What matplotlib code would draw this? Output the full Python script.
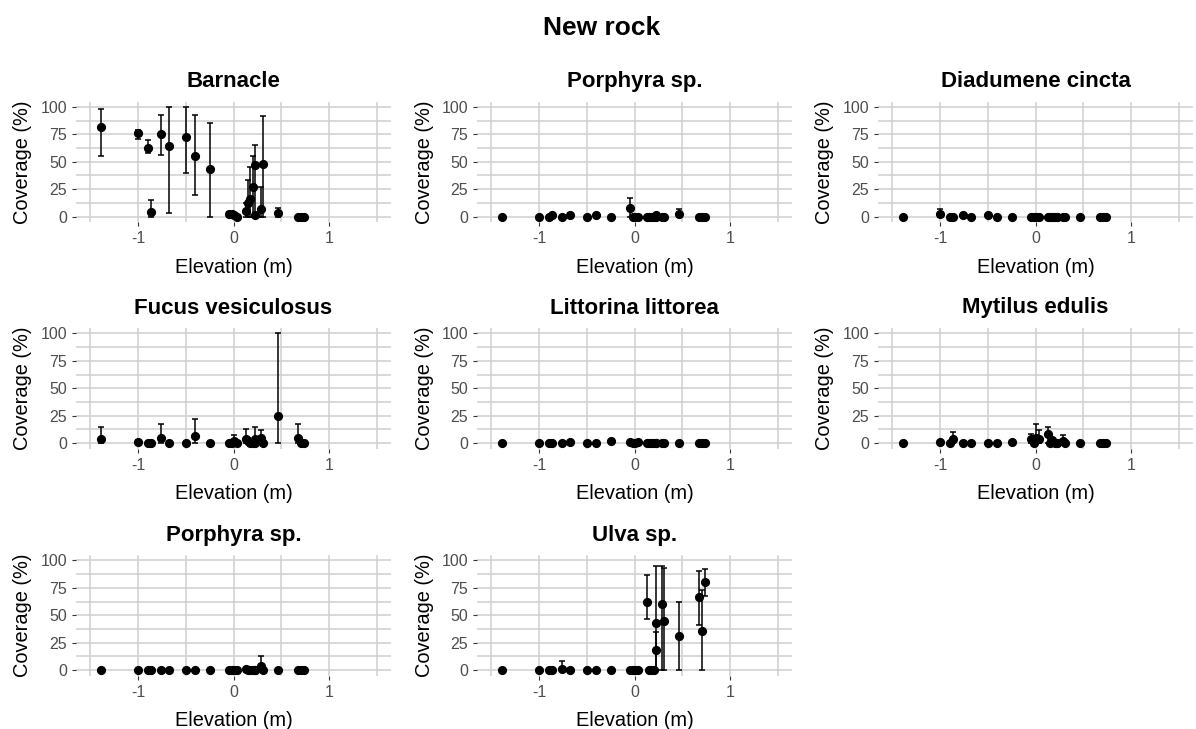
import matplotlib
matplotlib.use("Agg")
import matplotlib.pyplot as plt
from matplotlib.ticker import FixedLocator
import numpy as np

plt.rcParams['font.family'] = ['Liberation Sans', 'DejaVu Sans']
plt.rcParams['axes.unicode_minus'] = False

# Quadrat elevations (m), shared by every species panel
elevation = [-1.39, -1.00, -0.90, -0.86, -0.76, -0.68, -0.50, -0.40, -0.25,
             -0.05, -0.02, 0.00, 0.04, 0.13, 0.15, 0.17, 0.20, 0.22, 0.23,
             0.29, 0.31, 0.47, 0.68, 0.71, 0.74]

species = ["Barnacle", "Porphyra sp.", "Diadumene cincta",
           "Fucus vesiculosus", "Littorina littorea", "Mytilus edulis",
           "Porphyra sp.", "Ulva sp."]

# Mean coverage (%) and error bar limits per species
barnacle_mean = [82, 76, 63, 4, 75, 64, 73, 55, 43, 2, 2, 1, 0, 5, 12, 16, 27, 47, 1, 7, 48, 3, 0, 0, 0]
barnacle_lo   = [55, 71, 58, 0, 56, 3, 40, 20, 0, 0, 0, 0, 0, 0, 0, 0, 0, 0, 0, 0, 0, 0, 0, 0, 0]
barnacle_hi   = [98, 79, 70, 15, 93, 100, 100, 93, 85, 4, 4, 3, 0, 12, 33, 45, 55, 65, 3, 27, 92, 8, 0, 0, 0]

porphyra1_mean = [0, 0, 0, 1, 0, 1, 0, 1, 0, 8, 0, 0, 0, 0, 0, 0, 0, 1, 0, 0, 0, 2, 0, 0, 0]
porphyra1_lo   = [0] * 25
porphyra1_hi   = [0, 0, 0, 1, 0, 3, 0, 1, 0, 17, 0, 0, 0, 0, 0, 0, 0, 1, 0, 0, 0, 7, 0, 0, 0]

diadumene_mean = [0, 2, 0, 0, 1, 0, 1, 0, 0, 0, 0, 0, 0, 0, 0, 0, 0, 0, 0, 0, 0, 0, 0, 0, 0]
diadumene_lo   = [0] * 25
diadumene_hi   = [0, 7, 0, 0, 1, 0, 1, 0, 0, 0, 0, 0, 0, 0, 0, 0, 0, 0, 0, 0, 0, 0, 0, 0, 0]

fucus_mean = [4, 1, 0, 0, 5, 0, 0, 6, 0, 0, 0, 2, 0, 4, 2, 0, 0, 0, 4, 5, 0, 25, 5, 0, 0]
fucus_lo   = [0] * 25
fucus_hi   = [15, 3, 0, 0, 17, 0, 0, 22, 0, 0, 0, 7, 0, 13, 5, 0, 0, 0, 15, 12, 0, 100, 17, 0, 0]

littorina_mean = [0, 0, 0, 0, 0, 1, 0, 0, 1.5, 1, 0, 0, 1, 0, 0, 0, 0, 0, 0, 0, 0, 0, 0, 0, 0]
littorina_lo   = [0] * 25
littorina_hi   = [0, 0, 0, 0, 0, 1, 0, 0, 1.5, 1, 0, 0, 1, 0, 0, 0, 0, 0, 0, 0, 0, 0, 0, 0, 0]

mytilus_mean = [0, 1, 0, 4, 0, 0, 0, 0, 1, 4, 0, 5, 4, 8, 0, 3, 0, 0, 0, 2, 0, 0, 0, 0, 0]
mytilus_lo   = [0] * 25
mytilus_hi   = [0, 1, 0, 10, 0, 0, 0, 0, 1, 8, 0, 17, 12, 15, 0, 5, 0, 0, 0, 7, 0, 0, 0, 0, 0]

porphyra2_mean = [0, 0, 0, 0, 0, 0, 0, 0, 0, 0, 0, 0, 0, 1, 0, 0, 0, 0, 0, 4, 0, 0, 0, 0, 0]
porphyra2_lo   = [0] * 25
porphyra2_hi   = [0, 0, 0, 0, 0, 0, 0, 0, 0, 0, 0, 0, 0, 3, 0, 0, 0, 0, 0, 13, 0, 0, 0, 0, 0]

ulva_mean = [0, 0, 0, 0, 1, 0, 0, 0, 0, 0, 0, 0, 0, 62, 0, 0, 0, 43, 18, 60, 45, 31, 67, 36, 80]
ulva_lo   = [0, 0, 0, 0, 0, 0, 0, 0, 0, 0, 0, 0, 0, 47, 0, 0, 0, 0, 0, 0, 0, 0, 41, 0, 68]
ulva_hi   = [0, 0, 0, 0, 8, 0, 0, 0, 0, 0, 0, 0, 0, 87, 0, 0, 0, 95, 35, 95, 93, 62, 90, 73, 92]

series = [
    (barnacle_mean, barnacle_lo, barnacle_hi),
    (porphyra1_mean, porphyra1_lo, porphyra1_hi),
    (diadumene_mean, diadumene_lo, diadumene_hi),
    (fucus_mean, fucus_lo, fucus_hi),
    (littorina_mean, littorina_lo, littorina_hi),
    (mytilus_mean, mytilus_lo, mytilus_hi),
    (porphyra2_mean, porphyra2_lo, porphyra2_hi),
    (ulva_mean, ulva_lo, ulva_hi),
]

x_ticks = [-1, 0, 1]
y_ticks = [0, 25, 50, 75, 100]

W, H = 1196, 729
fig = plt.figure(figsize=(W / 100, H / 100), dpi=100)
fig.patch.set_facecolor("white")

col_left = [76, 477, 878]
row_top = [101.5, 328, 555]
pw, ph = 315, 120.5

grid_color = "#D0D0D0"
tick_label_color = "#4D4D4D"

x = np.array(elevation)
for i, (name, (m, lo, hi)) in enumerate(zip(species, series)):
    r, c = divmod(i, 3)
    left, top = col_left[c], row_top[r]
    ax = fig.add_axes([left / W, 1 - (top + ph) / H, pw / W, ph / H])
    ax.set_xlim(-1.65, 1.65)
    ax.set_ylim(-5, 105)
    ax.xaxis.set_major_locator(FixedLocator(x_ticks))
    ax.xaxis.set_minor_locator(FixedLocator([-1.5, -0.5, 0.5, 1.5]))
    ax.yaxis.set_major_locator(FixedLocator(y_ticks))
    ax.yaxis.set_minor_locator(FixedLocator([12.5, 37.5, 62.5, 87.5]))
    ax.grid(True, which="both", color=grid_color, linewidth=1.1)
    ax.set_axisbelow(True)
    for s in ax.spines.values():
        s.set_visible(False)
    ax.tick_params(which="major", length=2.7, width=0.8, color="#333333",
                   labelsize=11.5, labelcolor=tick_label_color)
    ax.tick_params(axis="x", which="major", pad=4)
    ax.tick_params(axis="y", which="major", pad=3.8)
    ax.tick_params(which="minor", length=0)

    m = np.array(m, dtype=float)
    lo = np.array(lo, dtype=float)
    hi = np.array(hi, dtype=float)
    has_bar = (hi - lo) > 0
    ax.errorbar(x[has_bar], m[has_bar],
                yerr=[m[has_bar] - lo[has_bar], hi[has_bar] - m[has_bar]],
                fmt="none", ecolor="black", elinewidth=1.1, capsize=2.5,
                capthick=1.1, zorder=2)
    ax.plot(x, m, "o", color="black", markersize=5.6, zorder=3)

    cx = (left + pw / 2) / W
    fig.text(cx, 1 - (top - 14.5) / H, name, ha="center", va="baseline",
             fontsize=16, fontweight="bold", color="black")
    fig.text(cx, 1 - (top + ph + 50.9) / H, "Elevation (m)", ha="center",
             va="baseline", fontsize=14.4, color="black")
    fig.text((left - 53) / W, 1 - (top + ph / 2) / H, "Coverage (%)",
             rotation=90, ha="center", va="center", fontsize=14.4,
             color="black")

fig.text(602 / W, 1 - 35 / H, "New rock", ha="center", va="baseline",
         fontsize=19, fontweight="bold", color="black")

fig.savefig("out.png", dpi=100, facecolor="white")
